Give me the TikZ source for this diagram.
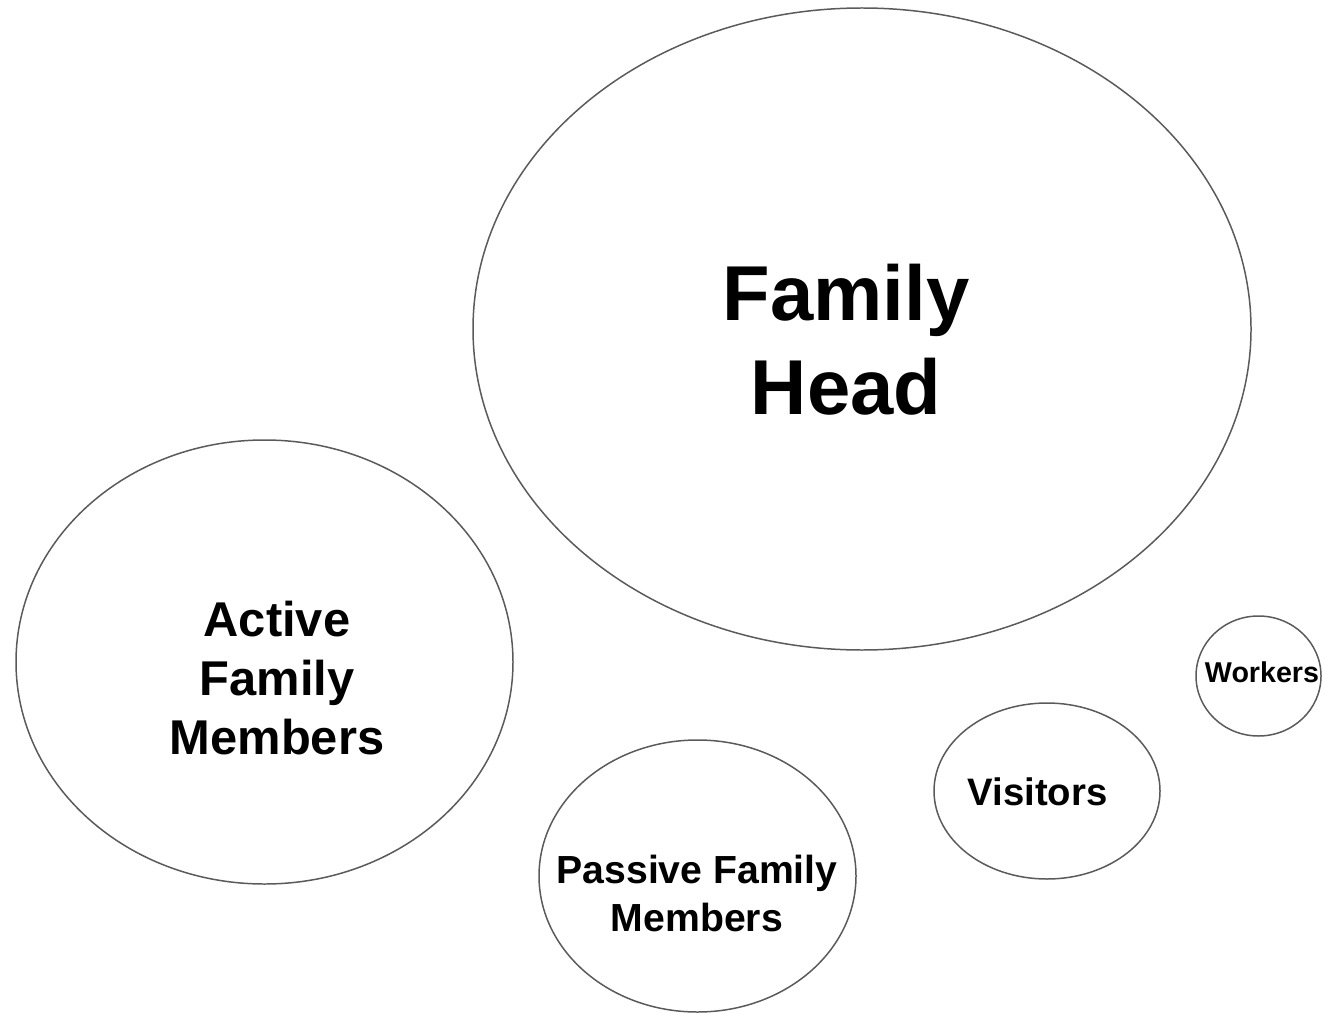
\documentclass[tikz,border=0pt]{standalone}
\usepackage{fontspec}
\setmainfont{Liberation Sans}

\tikzset{
    bubble/.style={draw=linecolor, line width=0.85pt},
    bubbletext/.style={align=center, font=\bfseries, inner sep=0pt}
}

\begin{document}
\begin{tikzpicture}[x=0.02cm, y=-0.02cm]
    % Define colors
    \definecolor{linecolor}{RGB}{90, 90, 90}

    % Fix the page size
    \useasboundingbox (0, 0) rectangle (1324, 1013);

    % Centres of the bubbles
    \coordinate (headC) at (862, 329);
    \coordinate (activeC) at (264.5, 662);
    \coordinate (passiveC) at (697.5, 876);
    \coordinate (visitorsC) at (1047, 791);
    \coordinate (workersC) at (1258.5, 676);

    % Draw the bubbles
    \draw[bubble] (headC) ellipse [x radius=389, y radius=321];
    \draw[bubble] (activeC) ellipse [x radius=248.5, y radius=222];
    \draw[bubble] (passiveC) ellipse [x radius=158.5, y radius=136];
    \draw[bubble] (visitorsC) ellipse [x radius=113, y radius=88];
    \draw[bubble] (workersC) ellipse [x radius=62.5, y radius=60];

    % Add the labels
    \node[bubbletext, font=\bfseries\fontsize{44.3}{53.3}\selectfont] (head) at (846, 340) {Family\\Head};
    \node[bubbletext, font=\bfseries\fontsize{27.8}{33.5}\selectfont] (active) at (277, 678) {Active\\Family\\Members};
    \node[bubbletext, font=\bfseries\fontsize{22.3}{27.2}\selectfont] (passive) at (697, 893.5) {Passive Family\\Members};
    \node[bubbletext, font=\bfseries\fontsize{21.8}{26}\selectfont] (visitors) at (1037.5, 791.5) {Visitors};
    \node[bubbletext, font=\bfseries\fontsize{16.3}{19.5}\selectfont] (workers) at (1262, 672.5) {Workers};

\end{tikzpicture}
\end{document}
